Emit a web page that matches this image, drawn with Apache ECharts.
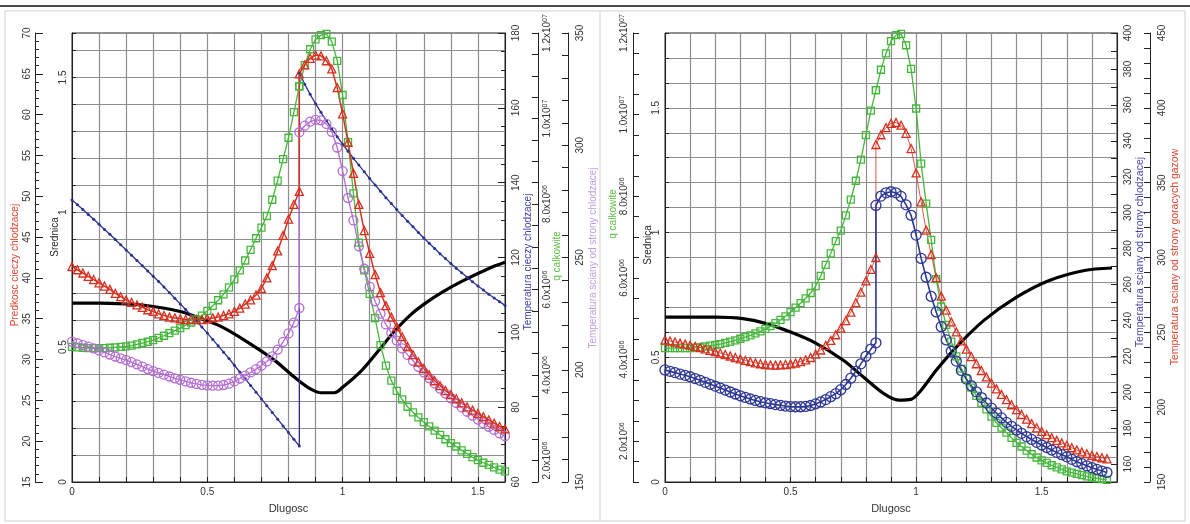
<!DOCTYPE html>
<html><head><meta charset="utf-8">
<script src="https://cdn.jsdelivr.net/npm/echarts/dist/echarts.min.js"></script>
<style>html,body{margin:0;padding:0;background:#fff}#c{width:1190px;height:524px}</style>
</head><body><div id="c"></div>
<script>
// ---------- DATA ----------
// Left panel: shared x positions (Dlugosc); 0.84 repeated for the jump
const xsL = [0,0.02,0.04,0.06,0.08,0.1,0.12,0.14,0.16,0.18,0.2,0.22,0.24,0.26,0.28,0.3,0.32,0.34,0.36,0.38,0.4,0.42,0.44,0.46,0.48,0.5,0.52,0.54,0.56,0.58,0.6,0.62,0.64,0.66,0.68,0.7,0.72,0.74,0.76,0.78,0.8,0.82,0.84,0.84,0.86,0.88,0.9,0.92,0.94,0.96,0.98,1,1.02,1.04,1.06,1.08,1.1,1.12,1.14,1.16,1.18,1.2,1.22,1.24,1.26,1.28,1.3,1.32,1.34,1.36,1.38,1.4,1.42,1.44,1.46,1.48,1.5,1.52,1.54,1.56,1.58,1.6];
// Predkosc cieczy chlodzacej (red triangles)
const predkoscL = [41.4,41.0,40.6,40.2,39.8,39.4,39.0,38.6,38.1,37.7,
37.3,37.0,36.7,36.4,36.1,35.9,35.6,35.4,35.2,35.1,
35.0,34.9,34.9,34.9,34.9,35.0,35.1,35.2,35.4,35.6,
35.9,36.3,36.8,37.3,37.9,38.7,40.0,41.5,43.3,45.2,
47.2,49.0,50.6,
65.0,
66.1,66.9,67.3,67.2,66.6,65.6,63.3,
60.1,56.6,52.8,49.0,45.8,43.0,40.4,38.2,36.6,35.2,
34.0,32.8,31.6,30.6,29.7,28.9,28.1,27.4,26.8,26.2,
25.7,25.2,24.7,24.2,23.8,23.4,23.0,22.6,22.2,21.8,
21.5];
// q calkowite in units of 1e6 (green squares)
const qL = [4.66,4.65,4.64,4.63,4.63,4.63,4.63,4.64,4.65,4.66,
4.67,4.69,4.72,4.75,4.78,4.82,4.87,4.92,4.98,5.04,
5.10,5.17,5.23,5.30,5.39,5.50,5.62,5.75,5.89,6.05,
6.24,6.45,6.68,6.93,7.20,7.45,7.72,8.10,8.55,9.05,
9.55,10.15,10.75,
10.75,
11.25,11.62,11.85,11.95,11.98,11.80,11.35,
10.55,9.45,8.25,7.10,6.45,5.90,5.33,4.70,4.22,3.87,
3.63,3.43,3.26,3.13,3.01,2.90,2.80,2.70,2.60,2.50,
2.41,2.33,2.24,2.16,2.08,2.01,1.95,1.90,1.84,1.79,
1.75];
// Temperatura sciany od strony chlodzacej (purple circles)
const tScianyL = [212.5,211.8,211.0,210.3,209.5,208.6,207.7,206.8,205.9,205.1,
204.3,203.4,202.4,201.4,200.3,199.4,198.6,197.8,197.0,196.2,
195.5,194.8,194.2,193.7,193.3,193.0,192.9,192.9,193.2,193.8,
194.8,196.1,197.4,198.8,200.3,201.8,203.7,206.0,209.0,212.4,
216.2,221.0,227.5,
305.8,
308.7,310.5,311.3,311.1,309.5,306.0,299.0,
288.5,276.5,266.5,255.0,245.0,237.0,230.5,225.0,220.2,216.5,
213.0,209.5,206.6,204.0,201.3,198.8,196.3,193.9,191.6,189.4,
187.3,185.2,183.2,181.3,179.6,177.8,176.2,174.6,173.2,171.7,
170.4];
// Temperatura cieczy chlodzacej (blue line with dots)
const tCieczyL = [135.4,134.1,132.8,131.5,130.2,128.9,127.5,126.2,124.8,123.4,
122.0,120.6,119.2,117.8,116.4,115.0,113.6,112.1,110.6,109.1,
107.6,106.1,104.5,103.0,101.4,99.8,98.1,96.4,94.7,93.0,
91.2,89.4,87.6,85.8,84.0,82.2,80.4,78.6,76.8,75.0,
73.2,71.4,69.6,
169.3,
166.3,163.6,161.1,158.8,156.6,154.4,152.3,
150.3,148.4,146.5,144.7,142.9,141.1,139.4,137.7,136.0,134.4,
132.8,131.2,129.7,128.2,126.7,125.2,123.8,122.4,121.0,119.7,
118.4,117.1,115.9,114.7,113.5,112.4,111.3,110.2,109.2,108.2,
107.2];
// Srednica (black)
const srednicaLx = [0,0.1,0.2,0.26,0.33,0.4,0.46,0.55,0.65,0.75,0.82,0.87,0.92,0.97,1.0,1.07,1.13,1.19,1.25,1.31,1.37,1.44,1.54,1.6];
const srednicaLy = [0.663,0.663,0.66,0.656,0.646,0.632,0.612,0.577,0.518,0.45,0.39,0.352,0.331,0.331,0.351,0.413,0.484,0.557,0.619,0.666,0.705,0.744,0.792,0.815];

// Right panel
const xsR = [0,0.02,0.04,0.06,0.08,0.1,0.12,0.14,0.16,0.18,0.2,0.22,0.24,0.26,0.28,0.3,0.32,0.34,0.36,0.38,0.4,0.42,0.44,0.46,0.48,0.5,0.52,0.54,0.56,0.58,0.6,0.62,0.64,0.66,0.68,0.7,0.72,0.74,0.76,0.78,0.8,0.82,0.84,0.84,0.86,0.88,0.9,0.92,0.94,0.96,0.98,1,1.02,1.04,1.06,1.08,1.1,1.12,1.14,1.16,1.18,1.2,1.22,1.24,1.26,1.28,1.3,1.32,1.34,1.36,1.38,1.4,1.42,1.44,1.46,1.48,1.5,1.52,1.54,1.56,1.58,1.6,1.62,1.64,1.66,1.68,1.7,1.72,1.74,1.76];
const qR = [4.28,4.28,4.28,4.28,4.28,4.28,4.29,4.30,4.32,4.34,
4.36,4.38,4.41,4.44,4.47,4.51,4.55,4.59,4.64,4.69,
4.75,4.82,4.89,4.97,5.06,5.16,5.27,5.38,5.50,5.63,
5.80,6.05,6.32,6.60,6.90,7.16,7.53,7.92,8.38,8.90,
9.50,10.10,10.60,
10.60,
11.10,11.50,11.80,11.95,11.98,11.70,11.12,
10.15,8.80,7.82,6.93,5.97,5.30,4.85,4.44,4.08,3.78,
3.53,3.31,3.11,2.94,2.78,2.60,2.45,2.33,2.21,2.08,
1.96,1.87,1.77,1.68,1.60,1.53,1.47,1.41,1.36,1.31,
1.26,1.23,1.20,1.17,1.14,1.11,1.09,1.07,1.05];
// Temperatura sciany od strony goracych gazow (red triangles)
const tGazR = [244.9,244.2,243.5,242.8,242.1,241.4,240.6,239.8,238.9,238.0,
237.1,236.2,235.2,234.2,233.2,232.2,231.2,230.4,229.6,229.0,
228.5,228.2,228.1,228.2,228.5,228.9,229.5,230.4,231.6,233.2,
235.4,238.2,241.3,244.6,248.4,252.8,257.8,263.5,269.8,276.8,
284.4,292.0,300.0,
375.5,
382.0,386.8,389.6,390.2,388.4,383.0,372.8,
356.5,337.2,318.3,302.0,286.5,274.2,264.8,257.0,250.3,244.3,
238.8,233.8,229.0,224.5,220.2,216.1,212.2,208.5,205.0,201.6,
198.3,195.1,192.0,189.0,186.2,183.8,181.6,179.6,177.8,176.1,
174.5,172.9,171.4,170.1,168.9,167.8,167.0,166.2,165.5];
// Temperatura sciany od strony chlodzacej (blue circles)
const tChlR = [212.4,211.6,210.9,210.1,209.4,208.6,207.6,206.6,205.5,204.4,
203.4,202.3,201.2,200.1,199.0,198.0,197.1,196.2,195.4,194.7,
194.1,193.6,193.1,192.7,192.3,192.0,191.9,191.9,192.1,192.6,
193.5,194.6,195.9,197.5,199.2,201.4,204.3,207.8,211.6,215.8,
220.0,224.0,227.5,
304.0,
309.2,311.0,311.6,311.0,309.0,304.3,298.5,
287.5,274.5,264.0,253.3,244.7,236.5,229.1,222.8,217.3,212.1,
207.3,203.6,200.2,197.0,194.0,191.1,188.4,185.7,183.2,181.0,
179.0,177.1,175.3,173.7,172.1,170.6,169.2,167.8,166.5,165.2,
164.0,162.6,161.3,160.2,159.0,158.0,157.0,156.1,155.3];
const srednicaRx = [0,0.1,0.2,0.31,0.4,0.5,0.6,0.71,0.79,0.87,0.93,0.98,1.02,1.08,1.16,1.27,1.4,1.53,1.67,1.78];
const srednicaRy = [0.661,0.661,0.661,0.655,0.636,0.601,0.557,0.488,0.421,0.355,0.328,0.331,0.368,0.448,0.541,0.648,0.741,0.808,0.848,0.858];

// ---------- CHART ----------
const FONT = '"Liberation Sans", Arial, sans-serif';
const GRIDC = '#8e8e8e';
const AX = '#222';
const LBL = '#333';
const C = {red:'#d8301f', green:'#45b83c', purple:'#b46bd4', blue:'#2b2f8f', blueR:'#2c3696', black:'#000'};

const halfFmt = v => (Math.round(v*10) % 5 === 0) ? String(Math.round(v*10)/10) : '';
const qFmt = v => {
  const m = Math.round(v/1e5);
  if (m % 20 !== 0 || m === 0) return '';
  const e = v >= 1e7 - 1 ? 7 : 6;
  return '{b|' + (v/Math.pow(10,e)).toFixed(1) + 'x10}{s|0' + e + '}';
};
const lab = (extra) => Object.assign({fontSize:10, color:LBL, fontFamily:FONT, rotate:90}, extra);
const tick = (len) => ({show:true, inside:true, length:len, lineStyle:{color:AX}});

function yAx(o) {
  return Object.assign({
    type:'value', axisLine:{show:true, onZero:false, lineStyle:{color:AX}},
    splitLine:{show:false}, axisTick:tick(6)
  }, o);
}

const qRich = {b:{fontSize:10, color:LBL, fontFamily:FONT}, s:{fontSize:7, color:LBL, fontFamily:FONT, verticalAlign:'top', lineHeight:10}};

const yAxis = [
  // left panel
  yAx({gridIndex:0, position:'left', offset:0, min:0, max:1.665, interval:0.1,
       axisLabel:lab({formatter:halfFmt, margin:4}), axisTick:tick(4),
       splitLine:{show:true, lineStyle:{color:GRIDC, width:1.2}}}),
  yAx({gridIndex:0, position:'left', offset:37, min:15, max:70, interval:5,
       axisLabel:lab({margin:3}), axisTick:tick(8),
       minorTick:{show:true, splitNumber:5, length:4, lineStyle:{color:AX}}}),
  yAx({gridIndex:0, position:'right', offset:0, min:60, max:180, interval:20,
       axisLabel:lab({margin:6}), axisTick:tick(7),
       minorTick:{show:true, splitNumber:4, length:4, lineStyle:{color:AX}}}),
  yAx({gridIndex:0, position:'right', offset:33, min:1.5e6, max:1.2e7, interval:5e5,
       axisLabel:lab({margin:4, formatter:qFmt, rich:qRich}), axisTick:tick(6)}),
  yAx({gridIndex:0, position:'right', offset:63, min:150, max:350, interval:10,
       axisLabel:lab({margin:7, formatter:v => (Math.round(v)%50===0 ? String(Math.round(v)) : '')}), axisTick:tick(6)}),
  // right panel
  yAx({gridIndex:1, position:'left', offset:0, min:0, max:1.8, interval:0.1,
       axisLabel:lab({formatter:halfFmt, margin:4}), axisTick:tick(4),
       splitLine:{show:true, lineStyle:{color:GRIDC, width:1.2}}}),
  yAx({gridIndex:1, position:'left', offset:32, min:1e6, max:1.2e7, interval:5e5,
       axisLabel:lab({margin:4, formatter:qFmt, rich:qRich}), axisTick:tick(6)}),
  yAx({gridIndex:1, position:'right', offset:0, min:150, max:400, interval:10,
       axisLabel:lab({margin:6, formatter:v => {const r=Math.round(v); return (r%20===0 && r>=160) ? String(r) : '';}}), axisTick:tick(6)}),
  yAx({gridIndex:1, position:'right', offset:33, min:150, max:450, interval:10,
       axisLabel:lab({margin:7, formatter:v => (Math.round(v)%50===0 ? String(Math.round(v)) : '')}), axisTick:tick(6)})
];

function xAx(gi, max) {
  return {gridIndex:gi, type:'value', min:0, max:max, interval:0.1,
    name:'Dlugosc', nameLocation:'middle', nameGap:21,
    nameTextStyle:{fontSize:11, color:LBL, fontFamily:FONT},
    axisLine:{show:true, onZero:false, lineStyle:{color:AX}},
    axisTick:{show:true, inside:true, length:5, lineStyle:{color:AX}},
    axisLabel:{formatter:halfFmt, margin:5, fontSize:10, color:LBL, fontFamily:FONT},
    splitLine:{show:true, lineStyle:{color:GRIDC, width:1.2}}};
}

function ser(xs, ys, xi, yi, color, symbol, size, lw, hollow, scale) {
  const k = scale || 1;
  return {type:'line', xAxisIndex:xi, yAxisIndex:yi,
    data: xs.map((x,i) => [x, ys[i]*k]),
    symbol: symbol, symbolSize: size, showSymbol: symbol !== 'none', showAllSymbol:true,
    lineStyle:{color:color, width:lw},
    itemStyle: hollow ? {color:'rgba(255,255,255,0)', borderColor:color, borderWidth:1.3} : {color:color},
    emphasis:{disabled:true}, animation:false};
}

const series = [
  Object.assign(ser(srednicaLx, srednicaLy, 0, 0, C.black, 'none', 0, 3.2, false), {smooth:0.3}),
  ser(xsL, tCieczyL, 0, 2, C.blue, 'circle', 3, 1.3, false),
  ser(xsL, qL, 0, 3, C.green, 'rect', 7, 1.3, true, 1e6),
  ser(xsL, tScianyL, 0, 4, C.purple, 'circle', 9, 1.3, true),
  ser(xsL, predkoscL, 0, 1, C.red, 'triangle', 8, 1.5, true),

  Object.assign(ser(srednicaRx, srednicaRy, 1, 5, C.black, 'none', 0, 3.2, false), {smooth:0.3}),
  ser(xsR, qR, 1, 6, C.green, 'rect', 7, 1.3, true, 1e6),
  ser(xsR, tGazR, 1, 8, C.red, 'triangle', 8, 0.8, true),
  ser(xsR, tChlR, 1, 7, C.blueR, 'circle', 10, 1.6, true)
];

function vtext(x, y, text, color, size) {
  return {type:'text', x:x, y:y, rotation:Math.PI/2, silent:true,
    style:{text:text, fill:color, font:(size||10)+'px '+FONT,
      textAlign:'center', textVerticalAlign:'middle', align:'center', verticalAlign:'middle'}};
}

const graphic = [
  {type:'line', shape:{x1:0, y1:6, x2:1190, y2:6}, style:{stroke:'#111', lineWidth:1.5}, silent:true},
  {type:'rect', shape:{x:5, y:11, width:1180, height:510}, style:{fill:'none', stroke:'#cfcfcf', lineWidth:1}, silent:true},
  {type:'line', shape:{x1:600, y1:11, x2:600, y2:521}, style:{stroke:'#cfcfcf', lineWidth:1}, silent:true},
  vtext(15, 265, 'Predkosc cieczy chlodzacej', '#e0452e', 10),
  vtext(55, 237, 'Srednica', '#222', 10),
  vtext(528, 262, 'Temperatura cieczy chlodzacej', '#3d3da8', 10),
  vtext(557, 256, 'q calkowite', '#5cc040', 10),
  vtext(593, 258, 'Temperatura sciany od strony chlodzacej', '#c09ce0', 10),
  vtext(613, 214, 'q calkowite', '#5cc040', 10),
  vtext(648, 245, 'Srednica', '#222', 10),
  vtext(1140, 252, 'Temperatura sciany od strony chlodzacej', '#4848b0', 10.5),
  vtext(1175, 257, 'Temperatura sciany od strony goracych gazow', '#e0452e', 10.5)
];

const option = {
  animation:false,
  backgroundColor:'#fff',
  textStyle:{fontFamily:FONT},
  grid:[
    {left:72, top:33, width:433, height:449, show:true, borderColor:'#222', borderWidth:1, backgroundColor:'#fff'},
    {left:665, top:33, width:452, height:449, show:true, borderColor:'#222', borderWidth:1, backgroundColor:'#fff'}
  ],
  xAxis:[xAx(0, 1.6), xAx(1, 1.8)],
  yAxis: yAxis,
  series: series,
  graphic: graphic
};

const chart = echarts.init(document.getElementById('c'), null, {renderer:'canvas'});
chart.setOption(option);
</script>
</body></html>
